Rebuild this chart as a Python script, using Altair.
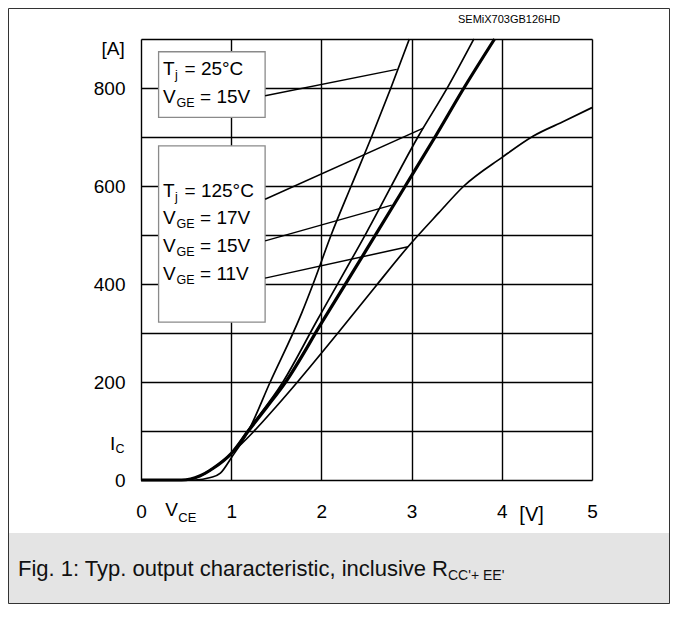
import altair as alt
import pandas as pd

FONT = "Liberation Sans"

# ---- curve data (V_CE [V], I_C [A]) ----
v_25_15 = [0, 0.6, 0.77, 0.88, 1.0, 1.19, 1.43, 1.78, 1.91, 2.11, 2.33, 2.56, 2.77, 2.975]
i_25_15 = [0, 0, 5, 14, 45, 100, 199, 340, 401, 501, 600, 702, 800, 900]

v_125_17 = [0, 0.45, 0.55, 0.65, 0.8, 1.0, 1.18, 1.57, 1.95, 2.5, 3.07, 3.41, 3.69]
i_125_17 = [0, 0, 2, 8, 24, 54, 100, 199, 325, 505, 700, 805, 900]

v_125_15 = [0, 0.45, 0.55, 0.65, 0.8, 1.0, 1.19, 1.4, 1.6, 2.0, 2.5, 2.93, 3.26, 3.59, 3.92]
i_125_15 = [0, 0, 2, 8, 24, 54, 100, 150, 199, 320, 470, 600, 700, 803, 900]

v_125_11 = [0, 0.45, 0.55, 0.65, 0.8, 1.0, 1.25, 1.5, 1.73, 2.21, 2.6, 2.96, 3.3, 3.58, 4.0, 4.35, 4.7, 5.0]
i_125_11 = [0, 0, 2, 8, 24, 54, 99, 150, 199, 306, 395, 476, 545, 600, 658, 702, 733, 760]

# ---- axes ----
x_ticks = [0, 1, 2, 3, 4, 5]
y_grid = [0, 100, 200, 300, 400, 500, 600, 700, 800, 900]

# ---- legend boxes (data units) ----
box_x0 = [0.195, 0.195]
box_x1 = [1.376, 1.376]
box_y0 = [740, 322]
box_y1 = [874, 682]

# ---- pointer lines from legend text to curves ----
ptr_x0 = [1.376, 1.376, 1.376, 1.376]
ptr_y0 = [784, 573, 488, 412]
ptr_x1 = [2.835, 3.13, 2.78, 2.96]
ptr_y1 = [838, 718, 561, 476]

# ---- legend text rows ----
row_main = ["T", "V", "T", "V", "V", "V"]
row_sub = ["j", "GE", "j", "GE", "GE", "GE"]
row_rest = ["= 25°C", "= 15V", "= 125°C", "= 17V", "= 15V", "= 11V"]
row_y = [826.5, 769, 578, 522, 465, 408]
row_x = 0.244

xs = alt.Scale(domain=[0, 5], nice=False, zero=False)
ys = alt.Scale(domain=[0, 900], nice=False, zero=False)

axis_x = alt.Axis(values=x_ticks, title=None, grid=True, gridColor="black", gridWidth=1.4,
                  gridOpacity=1, domain=False, ticks=False, labelPadding=22, labelFontSize=19,
                  labelFont=FONT, labelColor="black", labelAngle=0, labelFlush=False,
                  labelOverlap=False)
axis_y = alt.Axis(values=y_grid, title=None, grid=True, gridColor="black", gridWidth=1.4,
                  gridOpacity=1, domain=False, ticks=False, labelPadding=16, labelFontSize=19,
                  labelFont=FONT, labelColor="black", labelFlush=False, labelOverlap=False,
                  labelExpr="(datum.value % 200 == 0 && datum.value < 900) ? datum.label : ''")


def X(f):
    return alt.X(f, type="quantitative", scale=xs, axis=axis_x)


def Y(f):
    return alt.Y(f, type="quantitative", scale=ys, axis=axis_y)


rows = []
for name, vv, ii, w in [("25C 15V", v_25_15, i_25_15, 1.7),
                        ("125C 17V", v_125_17, i_125_17, 1.7),
                        ("125C 15V", v_125_15, i_125_15, 3.2),
                        ("125C 11V", v_125_11, i_125_11, 1.7)]:
    for k, (v, i) in enumerate(zip(vv, ii)):
        rows.append({"series": name, "v": v, "i": i, "w": w, "k": k})
curves_df = pd.DataFrame(rows)

boxes_df = pd.DataFrame({"x0": box_x0, "x1": box_x1, "y0": box_y0, "y1": box_y1})
ptr_df = pd.DataFrame({"x0": ptr_x0, "y0": ptr_y0, "x1": ptr_x1, "y1": ptr_y1})
leg_df = pd.DataFrame({"main": row_main, "sub": row_sub, "rest": row_rest, "y": row_y,
                       "x": [row_x] * len(row_y)})

boxes = alt.Chart(boxes_df).mark_rect(fill="white", stroke="#8a8a8a", strokeWidth=1.3).encode(
    x=X("x0"), x2="x1", y=Y("y0"), y2="y1")

curves = alt.Chart(curves_df).mark_line(color="black", interpolate="monotone",
                                         strokeJoin="round").encode(
    x=X("v"), y=Y("i"), detail="series:N", order="k:Q",
    strokeWidth=alt.StrokeWidth("w:Q", scale=None, legend=None))

pointers = alt.Chart(ptr_df).mark_rule(color="black", strokeWidth=1.5).encode(
    x=X("x0"), y=Y("y0"), x2="x1", y2="y1")


def text_layer(df, field, size, dx=0, dy=0, align="left"):
    return alt.Chart(df).mark_text(font=FONT, fontSize=size, dx=dx, dy=dy, align=align,
                                   baseline="alphabetic", color="black").encode(
        x=X("x"), y=Y("y"), text=alt.Text(f"{field}:N"))


leg_T = leg_df[leg_df["main"] == "T"]
leg_V = leg_df[leg_df["main"] == "V"]
legend_text = [
    text_layer(leg_df, "main", 19),
    text_layer(leg_T, "sub", 12.5, dx=12, dy=4),
    text_layer(leg_V, "sub", 12.5, dx=13.5, dy=3.5),
    text_layer(leg_T, "rest", 19, dx=21.5),
    text_layer(leg_V, "rest", 19, dx=37),
]

# axis annotations (positions in data units)
ann_layers = [
    text_layer(pd.DataFrame({"x": [-0.18], "y": [867], "t": ["[A]"]}), "t", 19, align="right"),
    text_layer(pd.DataFrame({"x": [-0.344], "y": [61], "t": ["I"]}), "t", 19),
    text_layer(pd.DataFrame({"x": [-0.344], "y": [61], "t": ["C"]}), "t", 12.5, dx=5.5, dy=3),
    text_layer(pd.DataFrame({"x": [0.27], "y": [-73.5], "t": ["V"]}), "t", 19),
    text_layer(pd.DataFrame({"x": [0.27], "y": [-73.5], "t": ["CE"]}), "t", 13, dx=13, dy=6),
    text_layer(pd.DataFrame({"x": [4.33], "y": [-83.7], "t": ["[V]"]}), "t", 20, align="center"),
    text_layer(pd.DataFrame({"x": [4.08], "y": [932.7], "t": ["SEMiX703GB126HD"]}), "t", 11,
               align="center"),
]

one = pd.DataFrame({"a": [0]})
footer = alt.Chart(one).mark_rect(fill="#e4e4e4").encode(
    x=alt.value(-133), x2=alt.value(529), y=alt.value(494), y2=alt.value(565))
frame = alt.Chart(one).mark_rect(fill=None, stroke="#333333", strokeWidth=1).encode(
    x=alt.value(-132.5), x2=alt.value(528.5), y=alt.value(-30.5), y2=alt.value(564.5))
caption = alt.Chart(one).mark_text(font=FONT, fontSize=22, align="left", baseline="alphabetic",
                                   color="#111111").encode(
    x=alt.value(-123), y=alt.value(537),
    text=alt.value("Fig. 1: Typ. output characteristic, inclusive R"))
caption_sub = alt.Chart(one).mark_text(font=FONT, fontSize=14, align="left",
                                       baseline="alphabetic", color="#111111").encode(
    x=alt.value(307), y=alt.value(541), text=alt.value("CC'+ EE'"))

chart = alt.layer(
    footer, frame, boxes, curves, pointers, *legend_text, *ann_layers, caption, caption_sub
).properties(
    width=451, height=441,
    padding={"left": 133, "top": 31, "right": 78, "bottom": 124},
    autosize=alt.AutoSizeParams(type="none"),
).configure_view(stroke="black", strokeWidth=2.2).configure(background="white")

chart.save("out.html", embed_options={"renderer": "svg", "actions": False})
